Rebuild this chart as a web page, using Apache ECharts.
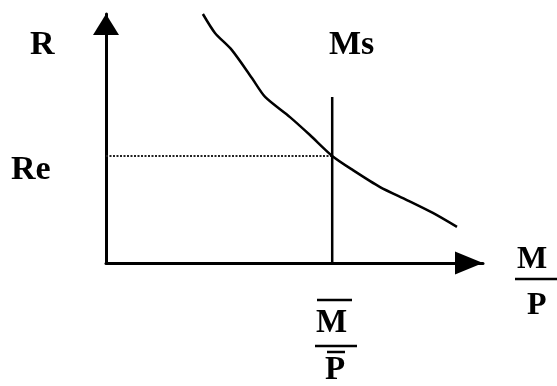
<!DOCTYPE html>
<html>
<head>
<meta charset="utf-8">
<script src="https://cdn.jsdelivr.net/npm/echarts@6/dist/echarts.min.js"></script>
<style>html,body{margin:0;padding:0;background:#fff;}#c{width:557px;height:386px;}</style>
</head>
<body>
<div id="c"></div>
<script>
// Money demand curve (x = M/P, y = R)
const demandX = [2.57, 2.89, 3.34, 3.87, 4.22, 4.88, 5.41, 6.0, 6.55, 7.27, 7.98, 8.67, 9.31];
const demandY = [10.0, 9.24, 8.55, 7.43, 6.67, 5.86, 5.14, 4.3, 3.73, 3.05, 2.53, 2.01, 1.45];
// Money supply (vertical) and equilibrium rate
const msX = 6.0;
const msTop = 6.67;
const reY = 4.3;
const labels = { y: 'R', re: 'Re', ms: 'Ms', x1: 'M', x2: 'P', eq1: 'M', eq2: 'P' };

const chart = echarts.init(document.getElementById('c'));
const font = '"Liberation Serif", "DejaVu Serif", serif';
const txt = (t, x, y, size) => ({ type: 'text', left: x, top: y, style: { text: t, font: 'bold ' + size + 'px ' + font, fill: '#000' } });
const ln = (x1, y1, x2, y2, w) => ({ type: 'line', shape: { x1, y1, x2, y2 }, style: { stroke: '#000', lineWidth: w } });

chart.setOption({
  backgroundColor: '#fff',
  animation: false,
  grid: { left: 106, right: 74, top: 14, bottom: 123 },
  xAxis: {
    type: 'value', min: 0, max: 10,
    axisLine: { show: true, lineStyle: { color: '#000', width: 3 }, symbol: ['none', 'triangle'], symbolSize: [23, 28], symbolOffset: [0, -14] },
    axisTick: { show: false }, axisLabel: { show: false }, splitLine: { show: false }
  },
  yAxis: {
    type: 'value', min: 0, max: 10,
    axisLine: { show: true, lineStyle: { color: '#000', width: 3 }, symbol: ['none', 'triangle'], symbolSize: [26, 21], symbolOffset: [0, -10.5] },
    axisTick: { show: false }, axisLabel: { show: false }, splitLine: { show: false }
  },
  series: [
    { type: 'line', data: demandX.map((x, i) => [x, demandY[i]]), smooth: 0.25, showSymbol: false,
      lineStyle: { color: '#000', width: 2.5 }, z: 5 },
    { type: 'line', data: [[msX, 0], [msX, msTop]], showSymbol: false, lineStyle: { color: '#000', width: 2.5 }, z: 4 },
    { type: 'line', data: [[0, reY], [msX, reY]], showSymbol: false, lineStyle: { color: '#222', width: 2, type: [2, 1.5] }, z: 3 }
  ],
  graphic: [
    txt(labels.y, 30, 28, 34),
    txt(labels.re, 11, 153, 34),
    txt(labels.ms, 329, 28, 34),
    txt(labels.x1, 517, 244, 32),
    ln(515, 279, 557, 279, 2.5),
    txt(labels.x2, 527, 290, 32),
    ln(317, 300, 352, 300, 2.5),
    txt(labels.eq1, 316, 307, 33),
    ln(315, 346, 357, 346, 2.5),
    ln(327, 352, 345, 352, 2.5),
    txt(labels.eq2, 325, 354, 33)
  ]
});
</script>
</body>
</html>
